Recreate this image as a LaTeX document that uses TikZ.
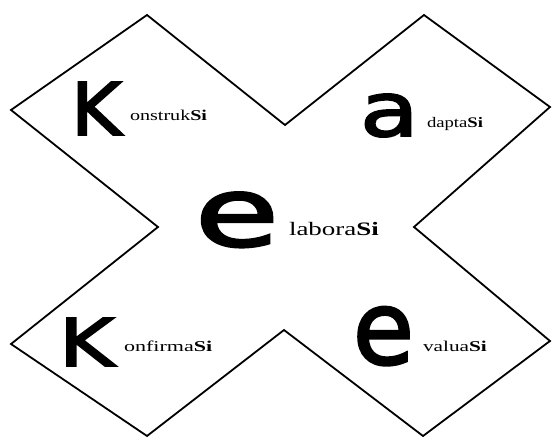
\documentclass[tikz,border=0pt]{standalone}
\usepackage{fontspec}
\setmainfont{Liberation Serif}
\newfontfamily\bigfont{DejaVu Sans}[FakeBold=2.5]
\newcommand\BigLetter[3]{\scalebox{#2}[1]{\bigfont\fontsize{#1}{#1}\selectfont #3}}
\newcommand\Lbl[3]{\scalebox{#2}[1]{\fontsize{#1}{#1}\selectfont #3\textbf{Si}}}
\begin{document}
\begin{tikzpicture}[x=1pt,y=1pt,
  txt/.style={inner sep=0pt, outer sep=0pt, anchor=base west},
  outline/.style={draw=black, line width=1.8pt, line join=miter}]
\useasboundingbox (0,0) rectangle (552,437);
% vertices (image y flipped)
\coordinate (p1) at (147,422);
\coordinate (p2) at (285,312);
\coordinate (p3) at (424,422);
\coordinate (p4) at (550,330);
\coordinate (p5) at (414,210);
\coordinate (p6) at (550,96);
\coordinate (p7) at (423,1);
\coordinate (p8) at (284,107);
\coordinate (p9) at (147,1);
\coordinate (p10) at (11,93);
\coordinate (p11) at (158,210);
\coordinate (p12) at (11,327);
\draw[outline] (p1) -- (p2) -- (p3) -- (p4) -- (p5) -- (p6) -- (p7) -- (p8) -- (p9) -- (p10) -- (p11) -- (p12) -- cycle;
% big letters
\node[txt] (k1) at (71,302) {\BigLetter{72.7}{1.06}{K}};
\node[txt] (a1) at (360,301) {\BigLetter{75}{1.28}{a}};
\node[txt] (e1) at (195,191) {\BigLetter{96}{1.42}{e}};
\node[txt] (k2) at (59,71) {\BigLetter{66}{1.28}{K}};
\node[txt] (e2) at (353,73) {\BigLetter{102}{0.97}{e}};
% labels
\node[txt] (l1) at (130,316) {\Lbl{15}{1.34}{onstruk}};
\node[txt] (l2) at (427,309) {\Lbl{14.6}{1.28}{dapta}};
\node[txt] (l3) at (289,201) {\Lbl{19}{1.42}{labora}};
\node[txt] (l4) at (124,85) {\Lbl{15}{1.47}{onfirma}};
\node[txt] (l5) at (423,85) {\Lbl{15}{1.42}{valua}};
\end{tikzpicture}
\end{document}
